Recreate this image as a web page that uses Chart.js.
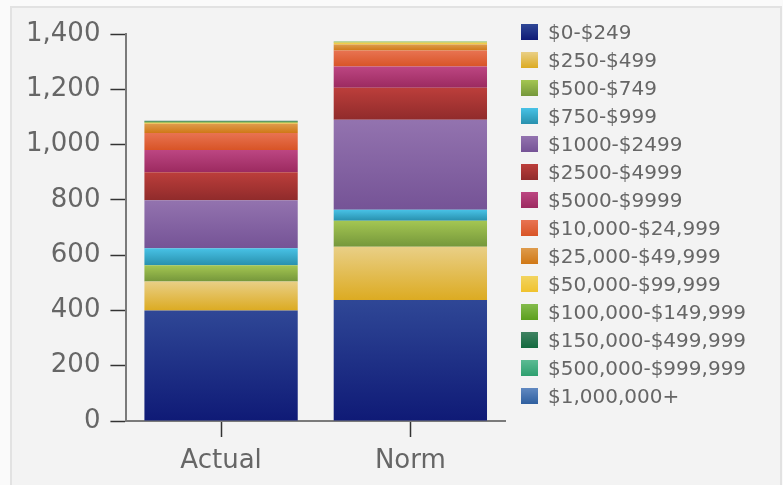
<!DOCTYPE html>
<html>
<head>
<meta charset="utf-8">
<script src="https://cdn.jsdelivr.net/npm/chart.js@4.4.1/dist/chart.umd.min.js"></script>
<style>
  html, body { margin: 0; padding: 0; background: #fafafa; }
  #panel { position: absolute; left: 10px; top: 6px; width: 768px; height: 500px; background: #f3f3f3; border: 2px solid #e2e2e2; }
  #wrap { position: absolute; left: 0; top: 0; width: 783px; height: 485px; }
  #legend { position: absolute; left: 521px; top: 18px; margin: 0; padding: 0; list-style: none;
            font-family: 'DejaVu Sans', Verdana, sans-serif; font-size: 20px; color: #666; }
  #legend li { height: 28px; display: flex; align-items: center; white-space: nowrap; }
  #legend span { display: inline-block; width: 17px; height: 16px; margin-right: 10px; }
</style>
</head>
<body>
<div id="panel"></div>
<div id="wrap"><canvas id="chart-bar"></canvas></div>
<ul id="legend"></ul>
<script>
var categories = ['Actual', 'Norm'];
var bins = ['$0-$249', '$250-$499', '$500-$749', '$750-$999', '$1000-$2499', '$2500-$4999', '$5000-$9999',
            '$10,000-$24,999', '$25,000-$49,999', '$50,000-$99,999', '$100,000-$149,999',
            '$150,000-$499,999', '$500,000-$999,999', '$1,000,000+'];
var actualValues = [400, 105, 58, 62, 174, 101, 80, 62, 33, 4, 4, 3, 0, 0];
var normValues   = [438, 192, 94, 40, 326, 116, 76, 58, 22, 7, 4, 0, 0, 0];
var yTicks = [0, 200, 400, 600, 800, 1000, 1200, 1400];

// top (light) / bottom (dark) colour of each segment
var shades = [
    ['#2f4796', '#0f1a76'],
    ['#e9cf86', '#dcab22'],
    ['#a4c652', '#75973b'],
    ['#48c2e6', '#2890ad'],
    ['#9373af', '#755396'],
    ['#bc3e3b', '#902b2b'],
    ['#bc4682', '#9c2a60'],
    ['#e87352', '#d85426'],
    ['#de9b4c', '#d07816'],
    ['#f2d460', '#f0c22e'],
    ['#84bb4c', '#5c9f1e'],
    ['#408262', '#136a3f'],
    ['#5bbb93', '#2e9f6f'],
    ['#6189c1', '#2f5f9f']
];
var seriesByCat = [actualValues, normValues];
var font = 'DejaVu Sans, Verdana, sans-serif';

function segFill(c) {
    var cols = shades[c.datasetIndex];
    var y = c.chart.scales.y;
    if (c.type !== 'data' || !y || !isFinite(y.top)) return cols[1];
    var vals = seriesByCat[c.dataIndex];
    var base = 0;
    for (var k = 0; k < c.datasetIndex; k++) base += vals[k];
    var top = y.getPixelForValue(base + vals[c.datasetIndex]);
    var bot = y.getPixelForValue(base);
    if (!(bot - top > 0)) return cols[1];
    var g = c.chart.ctx.createLinearGradient(0, top, 0, bot);
    g.addColorStop(0, cols[0]);
    g.addColorStop(1, cols[1]);
    return g;
}

var datasets = [];
for (var i = 0; i < bins.length; i++) {
    datasets.push({
        label: bins[i],
        data: [actualValues[i], normValues[i]],
        backgroundColor: segFill,
        borderWidth: 0,
        categoryPercentage: 1,
        barPercentage: 0.81
    });
}

// html legend, same order as the stack
var legendEl = document.getElementById('legend');
bins.forEach(function (b, i) {
    var li = document.createElement('li');
    var sw = document.createElement('span');
    sw.style.background = 'linear-gradient(' + shades[i][0] + ',' + shades[i][1] + ')';
    li.appendChild(sw);
    li.appendChild(document.createTextNode(b));
    legendEl.appendChild(li);
});

var ctx = document.getElementById('chart-bar');
var myBarChart = new Chart(ctx, {
    type: 'bar',
    data: { labels: categories, datasets: datasets },
    options: {
        responsive: true,
        maintainAspectRatio: false,
        animation: false,
        layout: { padding: { left: 16, top: 14, right: 278, bottom: 0 } },
        plugins: {
            tooltip: { enabled: false },
            legend: { display: false }
        },
        scales: {
            x: {
                stacked: true,
                afterFit: function (s) { s.height = 64; },
                grid: { display: true, offset: false, drawOnChartArea: false, tickLength: 16, tickColor: '#333', tickWidth: 1.5 },
                border: { display: true, color: '#7a7a7a', width: 2 },
                ticks: { color: '#666', padding: 9, font: { family: font, size: 26 } }
            },
            y: {
                stacked: true,
                min: 0,
                max: 1400,
                afterFit: function (s) { s.paddingTop = 34; },
                afterBuildTicks: function (s) { s.ticks = yTicks.map(function (v) { return { value: v }; }); },
                grid: { display: true, drawOnChartArea: false, tickLength: 16, tickColor: '#333', tickWidth: 1.5 },
                border: { display: true, color: '#7a7a7a', width: 2 },
                ticks: {
                    color: '#666',
                    padding: 10,
                    font: { family: font, size: 26 },
                    callback: function (v) { return v.toLocaleString('en-US'); }
                }
            }
        }
    }
});
</script>
</body>
</html>
